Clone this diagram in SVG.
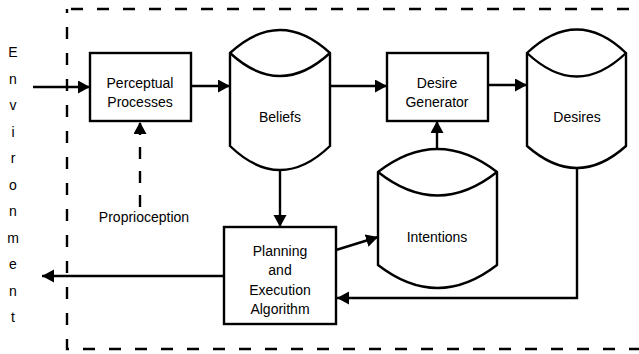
<svg xmlns="http://www.w3.org/2000/svg" width="639" height="354" viewBox="0 0 639 354">
<style>
.shape{fill:#fff;stroke:#000;stroke-width:2.4;stroke-linejoin:miter}
.line{fill:none;stroke:#000;stroke-width:2.4}
.dash{stroke-dasharray:12 13}
text{font-family:"Liberation Sans",Arial,sans-serif;font-size:14px;fill:#000;text-anchor:middle}
</style>
<defs>
<marker id="arr" markerUnits="userSpaceOnUse" markerWidth="14" markerHeight="14" refX="12" refY="6.5" orient="auto">
<path d="M0,0 L12,6.5 L0,13 Z" fill="#000"/>
</marker>
</defs>
<rect x="67" y="9" width="600" height="340" fill="none" stroke="#000" stroke-width="2.4" stroke-dasharray="12 14" stroke-dashoffset="-4"/>
<g id="environment">
<text x="13" y="57">E</text>
<text x="13" y="84">n</text>
<text x="13" y="110">v</text>
<text x="13" y="137">i</text>
<text x="13" y="163">r</text>
<text x="13" y="190">o</text>
<text x="13" y="216">n</text>
<text x="13" y="243">m</text>
<text x="13" y="269">e</text>
<text x="13" y="296">n</text>
<text x="13" y="322">t</text>
</g>
<g id="connectors">
<line class="line" x1="33" y1="87" x2="90" y2="87" marker-end="url(#arr)"/>
<line class="line" x1="191" y1="86" x2="230" y2="86" marker-end="url(#arr)"/>
<line class="line" x1="330" y1="86" x2="387" y2="86" marker-end="url(#arr)"/>
<line class="line" x1="488" y1="85" x2="527" y2="85" marker-end="url(#arr)"/>
<polyline class="line" points="577,167 577,298 337,298" marker-end="url(#arr)"/>
<line class="line" x1="280" y1="170" x2="280" y2="227" marker-end="url(#arr)"/>
<line class="line" x1="336" y1="250" x2="378" y2="237" marker-end="url(#arr)"/>
<line class="line" x1="437" y1="149" x2="437" y2="121" marker-end="url(#arr)"/>
<line class="line" x1="140" y1="207" x2="140" y2="122" stroke-dasharray="12 12" marker-end="url(#arr)"/>
<line class="line" x1="224" y1="276" x2="42" y2="276" marker-end="url(#arr)"/>
</g>
<g id="perceptual">
<rect class="shape" x="90" y="53" width="101" height="68"/>
<text x="140" y="88">Perceptual</text>
<text x="140" y="107">Processes</text>
</g>
<g id="beliefs">
<path class="shape" d="M230,53 Q280,7 330,53 L330,146 Q280,194 230,146 Z"/>
<path class="line" d="M230,53 Q280,99 330,53"/>
<text x="280" y="122">Beliefs</text>
</g>
<g id="desire-generator">
<rect class="shape" x="387" y="53" width="101" height="68"/>
<text x="437" y="88">Desire</text>
<text x="437" y="107">Generator</text>
</g>
<g id="desires">
<path class="shape" d="M527,53 Q577,6 626,53 L626,146 Q577,190 527,146 Z"/>
<path class="line" d="M527,53 Q577,100 626,53"/>
<text x="577" y="122">Desires</text>
</g>
<g id="intentions">
<path class="shape" d="M378,172 Q437.5,126 497,172 L497,265 Q437.5,311 378,265 Z"/>
<path class="line" d="M378,172 Q437.5,219 497,172"/>
<text x="437" y="242">Intentions</text>
</g>
<g id="planning">
<rect class="shape" x="224" y="227" width="112" height="97"/>
<text x="280" y="256">Planning</text>
<text x="280" y="275">and</text>
<text x="280" y="295">Execution</text>
<text x="280" y="314">Algorithm</text>
</g>
<g id="proprioception">
<text x="144" y="222">Proprioception</text>
</g>
</svg>
